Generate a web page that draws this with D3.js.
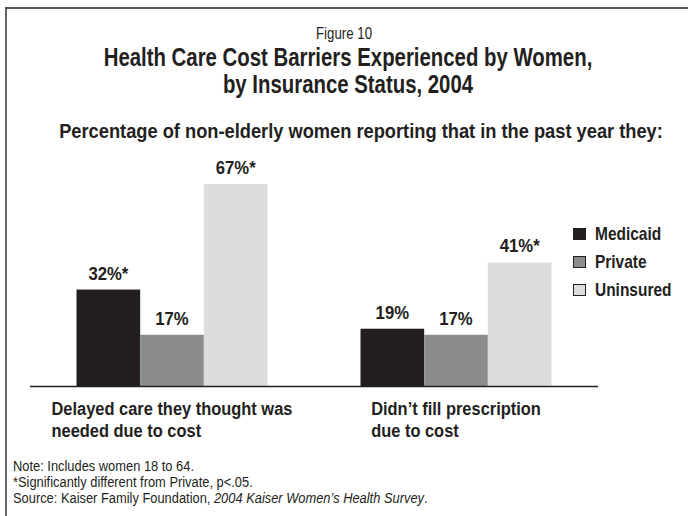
<!DOCTYPE html>
<html>
<head>
<meta charset="utf-8">
<script src="https://cdn.jsdelivr.net/npm/d3@7"></script>
<style>
  html, body { margin: 0; padding: 0; background: #fff; }
  svg { display: block; }
  text { font-family: "Liberation Sans", Arial, sans-serif; fill: #231f20; }
</style>
</head>
<body>
<svg id="chart" width="688" height="516"></svg>
<script>
// Survey categories (each drawn as a group of bars)
const categories = ["Delayed care they thought was\nneeded due to cost", "Didn\u2019t fill prescription\ndue to cost"];
// Insurance status series
const seriesNames = ["Medicaid", "Private", "Uninsured"];
const seriesColors = ["#231f20", "#8b8c8e", "#dcdddf"];
// Percent of women reporting each barrier, per series
const medicaidValues = [32, 19];
const privateValues = [17, 17];
const uninsuredValues = [67, 41];
// Marks significant difference from Private
const medicaidSig = [true, false];
const privateSig = [false, false];
const uninsuredSig = [true, true];

const valuesBySeries = [medicaidValues, privateValues, uninsuredValues];
const sigBySeries = [medicaidSig, privateSig, uninsuredSig];

const svg = d3.select("#chart");
const ink = "#231f20";

// Condensed text: a horizontally squeezed group so a regular sans reads like a narrow face
function label(parent, x, y, str, o = {}) {
  const g = parent.append("g")
    .attr("transform", `translate(${x},${y}) scale(${o.sx || 0.8},1)`);
  const t = g.append("text")
    .attr("text-anchor", o.anchor || "start")
    .style("font-size", (o.size || 16) + "px")
    .style("font-weight", o.bold ? "bold" : "normal");
  if (str !== null) t.text(str);
  return t;
}

// Frame
svg.append("line").attr("x1", 6).attr("x2", 688).attr("y1", 8).attr("y2", 8)
  .attr("stroke", "#5a5a5a").attr("stroke-width", 2);
svg.append("line").attr("x1", 6).attr("x2", 6).attr("y1", 7).attr("y2", 516)
  .attr("stroke", "#333").attr("stroke-width", 1.5);

// Titles
label(svg, 344, 39, "Figure 10", { size: 17, anchor: "middle", sx: 0.78 });
label(svg, 348, 66, "Health Care Cost Barriers Experienced by Women,", { size: 25, bold: true, anchor: "middle", sx: 0.815 });
label(svg, 348, 93, "by Insurance Status, 2004", { size: 25, bold: true, anchor: "middle", sx: 0.815 });
label(svg, 361, 138, "Percentage of non-elderly women reporting that in the past year they:", { size: 21, bold: true, anchor: "middle", sx: 0.87 });

// Scales
const x0 = d3.scaleBand().domain(d3.range(categories.length)).range([30, 598]).padding(0);
const groupW = 191;
const x1 = d3.scaleBand().domain(d3.range(seriesNames.length))
  .range([(x0.bandwidth() - groupW) / 2, (x0.bandwidth() + groupW) / 2]).padding(0);
const y = d3.scaleLinear().domain([0, 70]).range([386, 175]);

const rows = [];
categories.forEach((c, ci) => {
  seriesNames.forEach((s, si) => {
    rows.push({ ci, si, v: valuesBySeries[si][ci], sig: sigBySeries[si][ci] });
  });
});

const g = svg.append("g");
g.selectAll("rect.bar").data(rows).join("rect")
  .attr("class", "bar")
  .attr("x", d => x0(d.ci) + x1(d.si))
  .attr("width", x1.bandwidth())
  .attr("y", d => y(d.v))
  .attr("height", d => y(0) - y(d.v))
  .attr("fill", d => seriesColors[d.si]);

rows.forEach(d => {
  label(g, x0(d.ci) + x1(d.si) + x1.bandwidth() / 2, y(d.v) - 10,
    d.v + "%" + (d.sig ? "*" : ""), { size: 19, bold: true, anchor: "middle", sx: 0.88 });
});

// Baseline
svg.append("line").attr("x1", 30).attr("x2", 598).attr("y1", y(0) + 0.5).attr("y2", y(0) + 0.5)
  .attr("stroke", ink).attr("stroke-width", 1.5);

// Category labels: left-aligned block centred under each group
categories.forEach((c, ci) => {
  const sx = 0.865;
  const t = label(svg, 0, 0, null, { size: 19, bold: true, sx });
  c.split("\n").forEach((ln, li) => {
    t.append("tspan").attr("x", 0).attr("y", 415 + li * 22).text(ln);
  });
  const w = t.node().getBBox().width * sx;
  const cx = x0(ci) + x0.bandwidth() / 2;
  d3.select(t.node().parentNode).attr("transform", `translate(${cx - w / 2},0) scale(${sx},1)`);
});

// Legend
const leg = svg.append("g").attr("transform", "translate(573,228)");
seriesNames.forEach((s, i) => {
  const row = leg.append("g").attr("transform", `translate(0,${i * 28})`);
  row.append("rect").attr("x", 0.5).attr("y", 0.5).attr("width", 12).attr("height", 11)
    .attr("fill", seriesColors[i]).attr("stroke", ink).attr("stroke-width", 1);
  label(row, 22, 12, s, { size: 18, bold: true, sx: 0.86 });
});

// Notes
const nsx = 0.92;
label(svg, 13, 471, "Note: Includes women 18 to 64.", { size: 14, sx: nsx });
label(svg, 13, 487, "*Significantly different from Private, p<.05.", { size: 14, sx: nsx });
const src = label(svg, 13, 503, null, { size: 14, sx: nsx });
src.append("tspan").text("Source: Kaiser Family Foundation, ");
src.append("tspan").style("font-style", "italic").text("2004 Kaiser Women\u2019s Health Survey");
src.append("tspan").text(".");
</script>
</body>
</html>
